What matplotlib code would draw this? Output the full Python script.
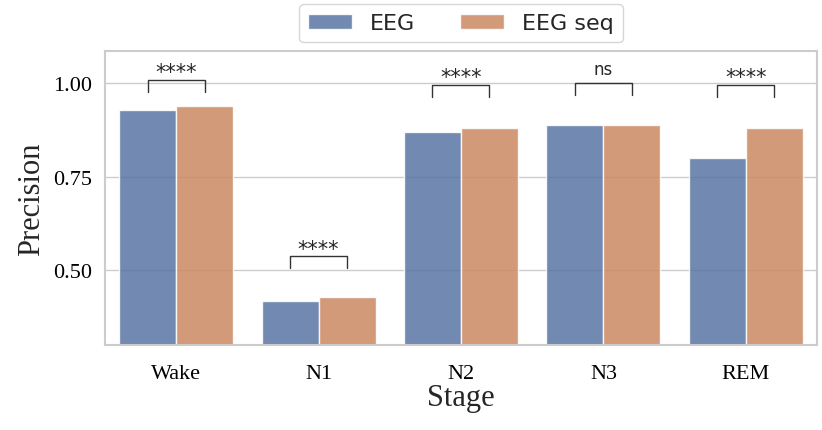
import matplotlib
matplotlib.use("Agg")
import matplotlib.pyplot as plt
import seaborn as sns
import numpy as np

stages = ["Wake", "N1", "N2", "N3", "REM"]
eeg = [0.928, 0.417, 0.869, 0.888, 0.799]
eeg_seq = [0.939, 0.428, 0.880, 0.888, 0.880]
signif = ["****", "****", "****", "ns", "****"]
bracket_top = [1.008, 0.537, 0.995, 1.000, 0.995]

sns.set_style("whitegrid")
plt.rcParams['font.family'] = ['DejaVu Sans']

colors = [sns.desaturate(c, 0.75) for c in sns.color_palette("deep")[:2]]

fig = plt.figure(figsize=(8.22, 4.31), dpi=100)
ax = fig.add_axes([0.1277, 0.197, 0.8662, 0.682])

x = np.arange(len(stages))
w = 0.4
ax.bar(x - w / 2, eeg, w, color=colors[0], alpha=0.85, edgecolor="white", linewidth=1, label="EEG")
ax.bar(x + w / 2, eeg_seq, w, color=colors[1], alpha=0.85, edgecolor="white", linewidth=1, label="EEG seq")

# significance brackets
for i, (s, top) in enumerate(zip(signif, bracket_top)):
    x0, x1 = i - w / 2, i + w / 2
    ax.plot([x0, x0, x1, x1], [top - 0.032, top, top, top - 0.032], color="0.2", lw=1)
    if s == "ns":
        ax.text(i, top + 0.012, s, ha="center", va="bottom", family="DejaVu Sans",
                fontsize=12, color="0.15")
    else:
        ax.text(i, top - 0.006, s, ha="center", va="bottom", family="DejaVu Sans",
                fontsize=15, color="0.15")

ax.set_xlim(-0.5, 4.5)
ax.set_ylim(0.30, 1.085)
ax.set_yticks([0.50, 0.75, 1.00])
ax.set_yticklabels(["0.50", "0.75", "1.00"])
ax.set_xticks(x)
ax.set_xticklabels(stages)
ax.grid(axis="x", visible=False)
ax.grid(axis="y", color="0.8", lw=1)
ax.set_axisbelow(True)
ax.tick_params(axis="x", pad=10)
ax.tick_params(axis="y", pad=6)

for lab in ax.get_xticklabels() + ax.get_yticklabels():
    lab.set_family("Liberation Serif")
    lab.set_fontsize(16)
    lab.set_color("black")
ax.set_xlabel("Stage", family="Liberation Serif", fontsize=22, labelpad=0)
ax.set_ylabel("Precision", family="Liberation Serif", fontsize=22, labelpad=5)

for sp in ax.spines.values():
    sp.set_color("0.8")
    sp.set_linewidth(1.5)

ax.legend(loc="lower center", bbox_to_anchor=(0.5, 1.0), ncol=2, fontsize=16,
          frameon=True, handlelength=2, columnspacing=2.0, borderaxespad=0.4)

fig.savefig("out.png", dpi=100)
